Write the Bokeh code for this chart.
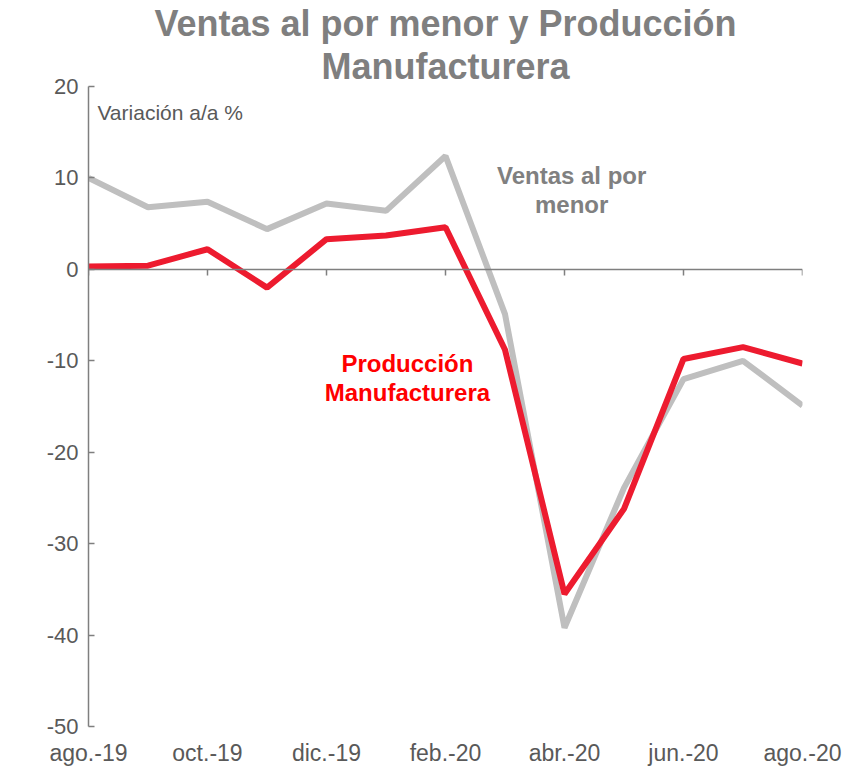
from bokeh.plotting import figure
from bokeh.models import Range1d, LinearAxis, FixedTicker, Label, Title
from bokeh.embed import file_html
from bokeh.resources import INLINE

meses = ["ago.-19", "sep.-19", "oct.-19", "nov.-19", "dic.-19", "ene.-20", "feb.-20",
         "mar.-20", "abr.-20", "may.-20", "jun.-20", "jul.-20", "ago.-20"]
ventas = [10.0, 6.8, 7.4, 4.4, 7.2, 6.4, 12.4, -4.9, -39.2, -23.9, -12.0, -10.0, -14.9]
produccion = [0.3, 0.4, 2.2, -2.0, 3.3, 3.7, 4.6, -8.8, -35.5, -26.2, -9.8, -8.5, -10.3]
y_ticks = [-50, -40, -30, -20, -10, 0, 10, 20]

x = list(range(len(meses)))
label_idx = x[::2]

FONT = "Liberation Sans"
AXIS_COLOR = "#7f7f7f"
LABEL_COLOR = "#595959"

p = figure(width=850, height=768, output_backend="svg", toolbar_location=None,
           x_range=Range1d(0, len(meses) - 1), y_range=Range1d(-50, 20),
           min_border_left=88, min_border_right=48, min_border_top=84, min_border_bottom=41)
p.outline_line_color = None
p.grid.visible = False
p.background_fill_color = "white"
p.border_fill_color = "white"

def style_title(t):
    t.align = "center"
    t.text_font = FONT
    t.text_font_size = "36px"
    t.text_font_style = "bold"
    t.text_color = "#7f7f7f"
    t.standoff = 0

p.title.text = "Ventas al por menor y Producción"
style_title(p.title)
t2 = Title(text="Manufacturera")
style_title(t2)
p.add_layout(t2, "above")

# left axis
ya = p.yaxis[0]
ya.ticker = FixedTicker(ticks=y_ticks)
ya.major_label_overrides = {v: str(v) for v in y_ticks}
ya.axis_line_color = AXIS_COLOR
ya.axis_line_width = 1.5
ya.major_tick_line_color = AXIS_COLOR
ya.major_tick_line_width = 1.5
ya.major_tick_in = 6
ya.major_tick_out = 0
ya.minor_tick_line_color = None
ya.major_label_text_font = FONT
ya.major_label_text_font_size = "22px"
ya.major_label_text_color = LABEL_COLOR
ya.major_label_standoff = 10

# bottom label axis
xa = p.xaxis[0]
xa.ticker = FixedTicker(ticks=label_idx)
xa.major_label_overrides = {i: meses[i] for i in label_idx}
xa.axis_line_color = None
xa.major_tick_line_color = None
xa.minor_tick_line_color = None
xa.major_label_text_font = FONT
xa.major_label_text_font_size = "23px"
xa.major_label_text_color = LABEL_COLOR
xa.major_label_standoff = 7

# zero axis
za = LinearAxis(fixed_location=0, ticker=FixedTicker(ticks=label_idx))
za.axis_line_color = AXIS_COLOR
za.axis_line_width = 1.5
za.major_tick_line_color = AXIS_COLOR
za.major_tick_line_width = 1.5
za.major_tick_out = 6
za.major_tick_in = 0
za.minor_tick_line_color = None
za.major_label_overrides = {i: "" for i in label_idx}
za.major_label_text_font_size = "1px"
za.major_label_standoff = 0
p.add_layout(za, "below")

p.line(x, ventas, line_color="#bfbfbf", line_width=6)
p.line(x, produccion, line_color="#ed1b2f", line_width=6)

p.add_layout(Label(x=0.15, y=17.2, text="Variación a/a %", text_font=FONT,
                   text_font_size="21px", text_color=LABEL_COLOR, text_baseline="middle"))
for txt, yy in [("Ventas al por", 10.3), ("menor", 7.1)]:
    p.add_layout(Label(x=8.12, y=yy, text=txt, text_font=FONT, text_font_size="24px",
                       text_font_style="bold", text_color="#808080",
                       text_align="center", text_baseline="middle"))
for txt, yy in [("Producción", -10.3), ("Manufacturera", -13.5)]:
    p.add_layout(Label(x=5.36, y=yy, text=txt, text_font=FONT, text_font_size="24px",
                       text_font_style="bold", text_color="#ff0000",
                       text_align="center", text_baseline="middle"))

open("out.html", "w").write(file_html(p, INLINE))
